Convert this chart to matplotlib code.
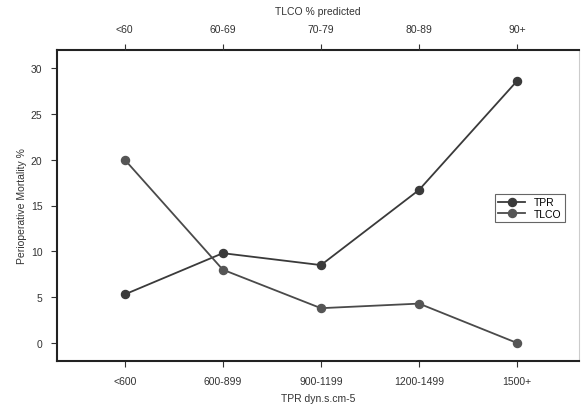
import numpy as np
import matplotlib.pyplot as plt

plt.rcParams['font.family'] = ['Liberation Sans', 'DejaVu Sans']

tpr_labels = ['<600', '600-899', '900-1199', '1200-1499', '1500+']
tlco_labels = ['<60', '60-69', '70-79', '80-89', '90+']
tpr_mort = [5.3, 9.8, 8.5, 16.7, 28.6]
tlco_mort = [20.0, 8.0, 3.8, 4.3, 0.0]

x = np.arange(len(tpr_labels))

fig = plt.figure(figsize=(5.82, 4.10), dpi=100)
ax = fig.add_axes([57/582, 48/410, (579-57)/582, (362-51)/410])

ax.plot(x, tpr_mort, '-o', color='#3a3a3a', mfc='#3a3a3a', mec='#3a3a3a',
        lw=1.3, ms=5.8, label='TPR')
ax.plot(x, tlco_mort, '-o', color='#4a4a4a', mfc='#555555', mec='#555555',
        lw=1.3, ms=5.8, label='TLCO')

ax.set_xlim(-0.69, 4.63)
ax.set_ylim(-1.96, 31.96)
ax.set_xticks(x)
ax.set_xticklabels(tpr_labels)
ax.set_yticks(np.arange(0, 31, 5))
ax.set_xlabel('TPR dyn.s.cm-5', fontsize=7.5, color='#333333', labelpad=5)
ax.set_ylabel('Perioperative Mortality %', fontsize=7.5, color='#333333', labelpad=3)
ax.tick_params(labelsize=7.5, colors='#333333', length=4.5, width=0.8, pad=6)

for s in ['left', 'bottom', 'top']:
    ax.spines[s].set_linewidth(1.5)
    ax.spines[s].set_color('#222222')
ax.spines['right'].set_color('#cccccc')
ax.spines['right'].set_linewidth(0.8)

top = ax.twiny()
top.set_xlim(ax.get_xlim())
top.set_xticks(x)
top.set_xticklabels(tlco_labels)
top.set_xlabel('TLCO % predicted', fontsize=7.5, color='#333333', labelpad=7)
top.tick_params(labelsize=7.5, colors='#333333', length=4.5, width=0.8, pad=7)
for s in top.spines.values():
    s.set_visible(False)

leg = ax.legend(loc='upper left', bbox_to_anchor=((490-57)/522, (362-190)/311),
                fontsize=7.5, handlelength=2.6, handletextpad=0.8,
                borderpad=0.3, labelspacing=0.15, fancybox=False,
                framealpha=1, edgecolor='#666666')
leg.get_frame().set_linewidth(0.8)

fig.savefig('out.png', dpi=100)
